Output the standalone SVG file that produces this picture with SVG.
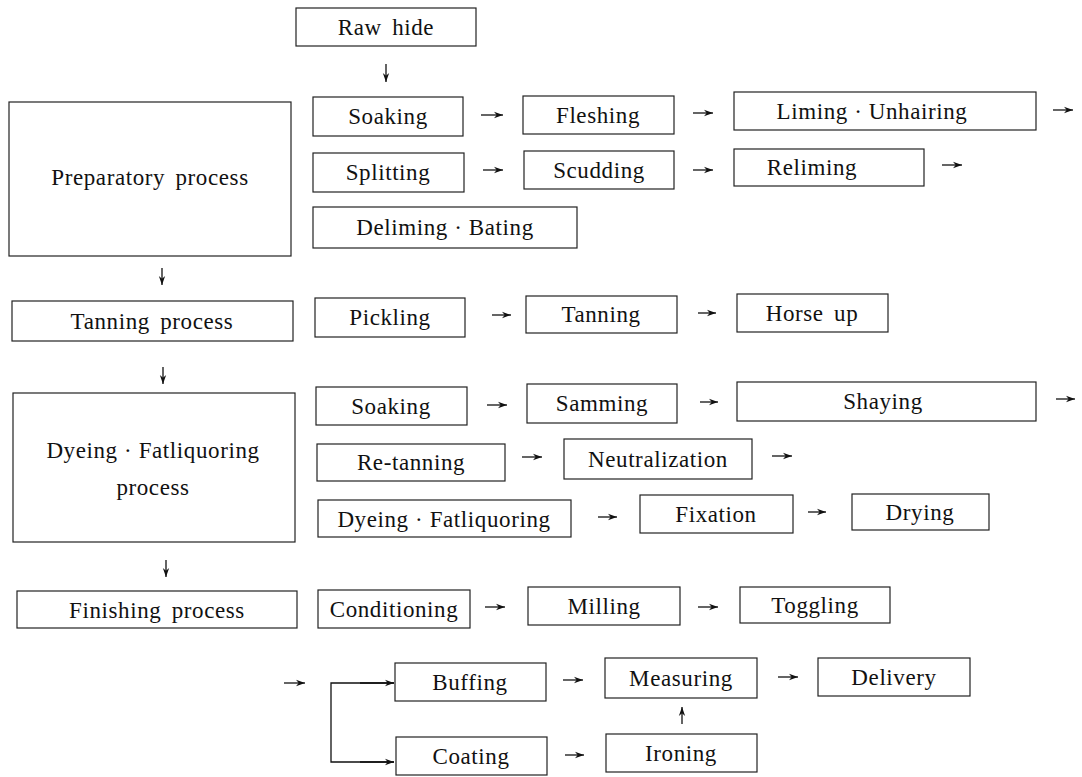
<svg xmlns="http://www.w3.org/2000/svg" width="1082" height="777" viewBox="0 0 1082 777">
<style>
rect{fill:none;stroke:#222;stroke-width:1.2}
text{font-family:"Liberation Serif","Times New Roman",serif;font-size:23px;fill:#111;text-anchor:middle;dominant-baseline:central;letter-spacing:0.6px;word-spacing:4px}
text.d{word-spacing:0}
.c line,.c path{stroke:#111;stroke-width:1.3;fill:none}
</style>
<defs>
<marker id="ah" viewBox="0 0 10 10" refX="10" refY="5" markerWidth="9" markerHeight="9" markerUnits="userSpaceOnUse" orient="auto">
<path d="M0,1.5 L10,5 L0,8.5 L3,5 Z" fill="#111"/>
</marker>
</defs>
<rect x="0" y="0" width="1082" height="777" style="fill:#fff;stroke:none"/>
<g id="raw-hide"><rect x="296" y="8" width="180" height="38"/><text x="386" y="27">Raw hide</text></g>
<g id="preparatory"><rect x="9" y="102" width="282" height="154"/><text x="150" y="177">Preparatory process</text></g>
<g id="soaking1"><rect x="313" y="97" width="150" height="39"/><text x="388" y="116">Soaking</text></g>
<g id="fleshing"><rect x="523" y="96" width="151" height="38"/><text x="598" y="115">Fleshing</text></g>
<g id="liming"><rect x="734" y="92" width="302" height="38"/><text class="d" x="872" y="111">Liming · Unhairing</text></g>
<g id="splitting"><rect x="313" y="153" width="151" height="39"/><text x="388" y="172">Splitting</text></g>
<g id="scudding"><rect x="524" y="151" width="150" height="38"/><text x="599" y="170">Scudding</text></g>
<g id="reliming"><rect x="734" y="149" width="190" height="37"/><text x="812" y="167">Reliming</text></g>
<g id="deliming"><rect x="313" y="207" width="264" height="41"/><text class="d" x="445" y="227">Deliming · Bating</text></g>
<g id="tanning-process"><rect x="12" y="301" width="281" height="40"/><text x="152" y="321">Tanning process</text></g>
<g id="pickling"><rect x="315" y="298" width="150" height="39"/><text x="390" y="317">Pickling</text></g>
<g id="tanning"><rect x="526" y="296" width="151" height="37"/><text x="601" y="314">Tanning</text></g>
<g id="horse-up"><rect x="737" y="294" width="151" height="38"/><text x="812" y="313">Horse up</text></g>
<g id="dyeing-process"><rect x="13" y="393" width="282" height="149"/><text class="d" x="153" y="450">Dyeing · Fatliquoring</text><text x="153" y="487">process</text></g>
<g id="soaking2"><rect x="316" y="387" width="151" height="38"/><text x="391" y="406">Soaking</text></g>
<g id="samming"><rect x="527" y="384" width="150" height="39"/><text x="602" y="403">Samming</text></g>
<g id="shaying"><rect x="737" y="382" width="299" height="39"/><text x="883" y="401">Shaying</text></g>
<g id="retanning"><rect x="317" y="444" width="188" height="37"/><text x="411" y="462">Re-tanning</text></g>
<g id="neutralization"><rect x="564" y="439" width="188" height="40"/><text x="658" y="459">Neutralization</text></g>
<g id="dyeing"><rect x="318" y="500" width="253" height="37"/><text class="d" x="444" y="519">Dyeing · Fatliquoring</text></g>
<g id="fixation"><rect x="640" y="495" width="153" height="38"/><text x="716" y="514">Fixation</text></g>
<g id="drying"><rect x="852" y="494" width="137" height="36"/><text x="920" y="512">Drying</text></g>
<g id="finishing-process"><rect x="17" y="591" width="280" height="37"/><text x="157" y="610">Finishing process</text></g>
<g id="conditioning"><rect x="318" y="590" width="152" height="38"/><text x="394" y="609">Conditioning</text></g>
<g id="milling"><rect x="528" y="587" width="152" height="38"/><text x="604" y="606">Milling</text></g>
<g id="toggling"><rect x="740" y="587" width="150" height="36"/><text x="815" y="605">Toggling</text></g>
<g id="buffing"><rect x="395" y="663" width="151" height="38"/><text x="470" y="682">Buffing</text></g>
<g id="measuring"><rect x="605" y="658" width="152" height="40"/><text x="681" y="678">Measuring</text></g>
<g id="delivery"><rect x="818" y="658" width="152" height="38"/><text x="894" y="677">Delivery</text></g>
<g id="coating"><rect x="396" y="737" width="151" height="38"/><text x="471" y="756">Coating</text></g>
<g id="ironing"><rect x="606" y="734" width="151" height="38"/><text x="681" y="753">Ironing</text></g>
<g id="connectors" class="c">
<line x1="386" y1="64" x2="386" y2="82" marker-end="url(#ah)"/>
<line x1="481" y1="115" x2="503" y2="115" marker-end="url(#ah)"/>
<line x1="693" y1="113" x2="713" y2="113" marker-end="url(#ah)"/>
<line x1="1053" y1="110" x2="1073" y2="110" marker-end="url(#ah)"/>
<line x1="483" y1="170" x2="503" y2="170" marker-end="url(#ah)"/>
<line x1="693" y1="170" x2="713" y2="170" marker-end="url(#ah)"/>
<line x1="942" y1="165" x2="962" y2="165" marker-end="url(#ah)"/>
<line x1="162" y1="268" x2="162" y2="285" marker-end="url(#ah)"/>
<line x1="492" y1="315" x2="511" y2="315" marker-end="url(#ah)"/>
<line x1="698" y1="313" x2="716" y2="313" marker-end="url(#ah)"/>
<line x1="163" y1="367" x2="163" y2="384" marker-end="url(#ah)"/>
<line x1="487" y1="405" x2="507" y2="405" marker-end="url(#ah)"/>
<line x1="700" y1="402" x2="718" y2="402" marker-end="url(#ah)"/>
<line x1="1056" y1="399" x2="1075" y2="399" marker-end="url(#ah)"/>
<line x1="522" y1="457" x2="542" y2="457" marker-end="url(#ah)"/>
<line x1="772" y1="456" x2="792" y2="456" marker-end="url(#ah)"/>
<line x1="598" y1="517" x2="617" y2="517" marker-end="url(#ah)"/>
<line x1="808" y1="512" x2="826" y2="512" marker-end="url(#ah)"/>
<line x1="166" y1="560" x2="166" y2="577" marker-end="url(#ah)"/>
<line x1="485" y1="607" x2="505" y2="607" marker-end="url(#ah)"/>
<line x1="698" y1="607" x2="718" y2="607" marker-end="url(#ah)"/>
<line x1="284" y1="683" x2="305" y2="683" marker-end="url(#ah)"/>
<path d="M394,683 H331 V762 H394"/>
<line x1="360" y1="683" x2="394" y2="683" marker-end="url(#ah)"/>
<line x1="360" y1="762" x2="394" y2="762" marker-end="url(#ah)"/>
<line x1="563" y1="680" x2="583" y2="680" marker-end="url(#ah)"/>
<line x1="778" y1="677" x2="798" y2="677" marker-end="url(#ah)"/>
<line x1="682" y1="724" x2="682" y2="707" marker-end="url(#ah)"/>
<line x1="565" y1="755" x2="584" y2="755" marker-end="url(#ah)"/>
</g>
</svg>
